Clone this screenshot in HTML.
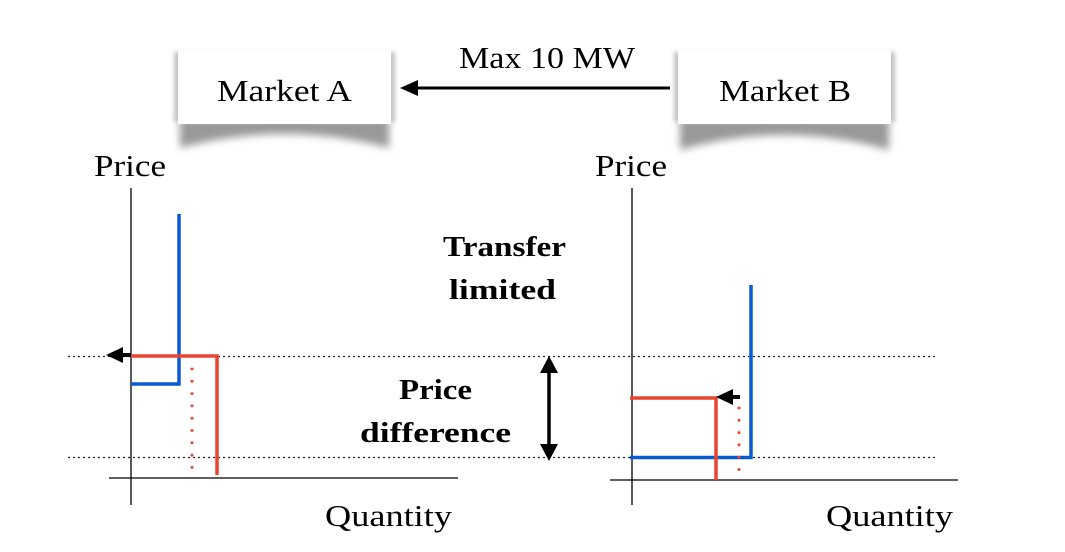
<!DOCTYPE html>
<html><head><meta charset="utf-8"><style>
html,body{margin:0;padding:0;background:#fff;}
svg{display:block;}
text{font-family:"Liberation Serif",serif;fill:#000;}
</style></head><body>
<svg width="1065" height="552" viewBox="0 0 1065 552" xmlns="http://www.w3.org/2000/svg">
<defs>
<filter id="bl" x="-20%" y="-50%" width="140%" height="200%"><feGaussianBlur stdDeviation="4"/></filter>
<filter id="bl2" x="-20%" y="-50%" width="140%" height="200%"><feGaussianBlur stdDeviation="2"/></filter>
</defs>
<g fill="#999">
<path d="M180,118 L389,118 L389,148 Q284,120 180,148 Z" filter="url(#bl)"/>
<path d="M680,118 L889,118 L889,150 Q784,120 680,150 Z" filter="url(#bl)"/>
</g>
<g fill="#c4c4c4" filter="url(#bl2)">
<rect x="174" y="52" width="221" height="70"/>
<rect x="674" y="52" width="221" height="70"/>
</g>
<rect x="178" y="50" width="213" height="74" fill="#fff"/>
<rect x="678" y="50" width="213" height="74" fill="#fff"/>
<text x="217" y="101" font-size="31" textLength="135" lengthAdjust="spacingAndGlyphs">Market A</text>
<text x="719" y="101" font-size="31" textLength="132" lengthAdjust="spacingAndGlyphs">Market B</text>
<text x="459" y="68" font-size="31" textLength="176" lengthAdjust="spacingAndGlyphs">Max 10 MW</text>
<line x1="670" y1="88" x2="412" y2="88" stroke="#000" stroke-width="3"/>
<polygon points="400,88 418,80 418,96" fill="#000"/>
<line x1="68" y1="356.5" x2="938" y2="356.5" stroke="#222" stroke-width="1.3" stroke-dasharray="2,3"/>
<line x1="68" y1="457.5" x2="938" y2="457.5" stroke="#222" stroke-width="1.3" stroke-dasharray="2,3"/>
<text x="94" y="176" font-size="31" textLength="72" lengthAdjust="spacingAndGlyphs">Price</text>
<line x1="131" y1="188" x2="131" y2="505" stroke="#000" stroke-width="1.3"/>
<line x1="109" y1="478" x2="458" y2="478" stroke="#000" stroke-width="1.3"/>
<text x="325" y="526" font-size="31" textLength="127" lengthAdjust="spacingAndGlyphs">Quantity</text>
<polyline points="131,384 179,384 179,214" fill="none" stroke="#0a5ad6" stroke-width="3.5"/>
<polyline points="131,356 217,356 217,475" fill="none" stroke="#e84530" stroke-width="3.5"/>
<line x1="192" y1="369" x2="192" y2="470" stroke="#e84530" stroke-width="3" stroke-linecap="round" stroke-dasharray="0,12.3"/>
<line x1="131" y1="355" x2="122" y2="355" stroke="#000" stroke-width="4"/>
<polygon points="106,355 123,347 123,363" fill="#000"/>
<text x="595" y="176" font-size="31" textLength="72" lengthAdjust="spacingAndGlyphs">Price</text>
<line x1="632" y1="188" x2="632" y2="505" stroke="#000" stroke-width="1.3"/>
<line x1="610" y1="480" x2="958" y2="480" stroke="#000" stroke-width="1.3"/>
<text x="826" y="526" font-size="31" textLength="127" lengthAdjust="spacingAndGlyphs">Quantity</text>
<polyline points="630,457.5 751,457.5 751,285" fill="none" stroke="#0a5ad6" stroke-width="3.5"/>
<polyline points="630,398 716,398 716,480" fill="none" stroke="#e84530" stroke-width="3.5"/>
<line x1="739" y1="408" x2="739" y2="472" stroke="#e84530" stroke-width="3" stroke-linecap="round" stroke-dasharray="0,12.3"/>
<line x1="740" y1="397" x2="728" y2="397" stroke="#000" stroke-width="4"/>
<polygon points="716,397 733,389 733,405" fill="#000"/>
<text x="443" y="256" font-size="29" font-weight="bold" textLength="123" lengthAdjust="spacingAndGlyphs">Transfer</text>
<text x="449" y="299" font-size="29" font-weight="bold" textLength="107" lengthAdjust="spacingAndGlyphs">limited</text>
<text x="399" y="399" font-size="29" font-weight="bold" textLength="73" lengthAdjust="spacingAndGlyphs">Price</text>
<text x="360" y="442" font-size="29" font-weight="bold" textLength="151" lengthAdjust="spacingAndGlyphs">difference</text>
<line x1="549" y1="370" x2="549" y2="448" stroke="#000" stroke-width="3.5"/>
<polygon points="549,356 540,373 558,373" fill="#000"/>
<polygon points="549,461 540,444 558,444" fill="#000"/>
</svg>
</body></html>
